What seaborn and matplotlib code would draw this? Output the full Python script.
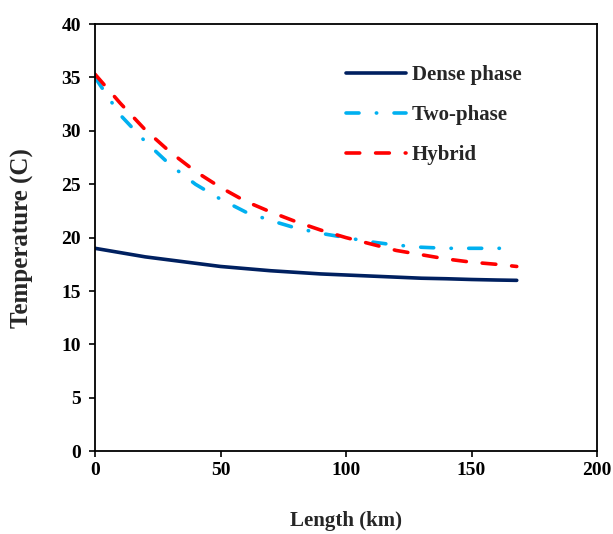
import matplotlib
matplotlib.use("Agg")
import matplotlib.pyplot as plt
import seaborn as sns
import pandas as pd

x_dense = [0, 10, 20, 30, 40, 50, 60, 70, 80, 90, 100, 110, 120, 130, 140, 150, 160, 168]
y_dense = [19.0, 18.6, 18.2, 17.9, 17.6, 17.3, 17.1, 16.9, 16.75, 16.6, 16.5, 16.4, 16.3, 16.2, 16.15, 16.08, 16.03, 16.0]

x_two = [0, 10, 20, 30, 40, 50, 60, 70, 80, 90, 100, 110, 120, 130, 140, 150, 162]
y_two = [35.0, 31.5, 29.0, 26.8, 25.0, 23.6, 22.4, 21.6, 20.9, 20.4, 20.0, 19.6, 19.3, 19.1, 19.0, 19.0, 19.0]

x_hyb = [0, 10, 20, 30, 40, 50, 60, 70, 80, 90, 100, 110, 120, 130, 140, 150, 160, 168]
y_hyb = [35.3, 32.6, 30.1, 28.0, 26.2, 24.7, 23.4, 22.4, 21.5, 20.7, 20.0, 19.4, 18.8, 18.4, 18.0, 17.7, 17.5, 17.3]

series_names = ["Dense phase", "Two-phase", "Hybrid"]
colors = ["#002060", "#00B0F0", "#FF0000"]

xticks = [0, 50, 100, 150, 200]
yticks = [0, 5, 10, 15, 20, 25, 30, 35, 40]

df = pd.concat([
    pd.DataFrame({"Length": x_dense, "Temp": y_dense, "Series": series_names[0]}),
    pd.DataFrame({"Length": x_two, "Temp": y_two, "Series": series_names[1]}),
    pd.DataFrame({"Length": x_hyb, "Temp": y_hyb, "Series": series_names[2]}),
], ignore_index=True)

sns.set_theme(style="ticks")
plt.rcParams["font.family"] = ["Liberation Serif", "DejaVu Serif"]
plt.rcParams["font.weight"] = "bold"

fig = plt.figure(figsize=(6.13, 5.34), dpi=100)
ax = fig.add_axes([0.155, 0.155, 0.819, 0.80])

LW = 2.6
dashes = {
    "Dense phase": "",
    "Two-phase": (3.6, 4.8, 0.1, 4.8),
    "Hybrid": (3.8, 4.4),
}
sns.lineplot(data=df, x="Length", y="Temp", hue="Series", style="Series",
             hue_order=series_names, style_order=series_names,
             palette=dict(zip(series_names, colors)), dashes=dashes,
             linewidth=LW, ax=ax, sort=False, estimator=None)

for line in ax.get_lines():
    line.set_dash_capstyle("round")
    line.set_solid_capstyle("round")

ax.set_xlim(0, 200)
ax.set_ylim(0, 40)
ax.set_xticks(xticks)
ax.set_yticks(yticks)
ax.tick_params(axis="both", direction="out", length=4, width=1.2, labelsize=14, colors="black")
ax.tick_params(axis="y", pad=6)
ax.tick_params(axis="x", pad=4)
for lab in ax.get_xticklabels() + ax.get_yticklabels():
    lab.set_fontweight("bold")
for s in ax.spines.values():
    s.set_visible(True)
    s.set_linewidth(1.3)
    s.set_color("black")

ax.set_xlabel("Length (km)", fontsize=15, fontweight="bold", labelpad=23)
ax.set_ylabel("Temperature (C)", fontsize=18, fontweight="bold", labelpad=20)

leg = ax.legend(frameon=False, loc="upper left", bbox_to_anchor=(0.5, 0.903),
                borderaxespad=0, borderpad=0,
                handlelength=2.9, labelspacing=0.95, handletextpad=0.25,
                prop={"weight": "bold", "size": 15})
for h in leg.get_lines():
    h.set_linewidth(LW)
    h.set_dash_capstyle("round")
    h.set_solid_capstyle("round")

fig.savefig("out.png", dpi=100)
